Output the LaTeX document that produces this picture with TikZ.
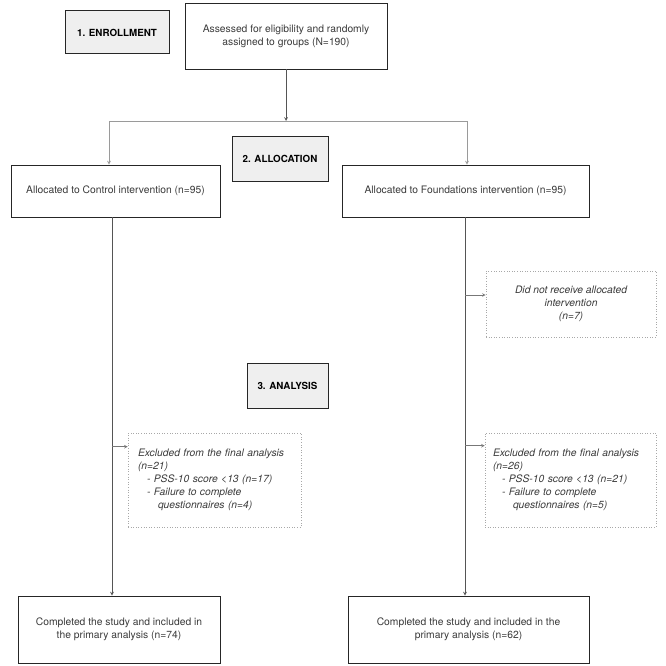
\documentclass[tikz,border=0pt]{standalone}
\usepackage{fontspec}
\setmainfont{TeX Gyre Heros}
\definecolor{boxline}{HTML}{262626}
\definecolor{stagefill}{HTML}{EFEFEF}
\definecolor{txtgray}{HTML}{3A3A3A}
\definecolor{linegray}{HTML}{555555}
\definecolor{splitgray}{HTML}{9A9A9A}
\definecolor{dotgray}{HTML}{A8A8A8}

\begin{document}
\begin{tikzpicture}[x=1pt, y=-1pt,
			every node/.style={font=\fontsize{10.3}{13}\selectfont, text=txtgray},
			flowbox/.style={draw=boxline, line width=0.9pt, rectangle, align=center, inner sep=0pt},
			stagebox/.style={draw=boxline, line width=1pt, rectangle, fill=stagefill, align=center, inner sep=0pt, font=\fontsize{9.8}{12}\selectfont\bfseries, text=black},
			notebox/.style={draw=dotgray, dotted, line width=0.6pt, rectangle, inner sep=0pt, font=\fontsize{10.3}{13}\selectfont\itshape},
			flowline/.style={draw=linegray, line width=0.7pt},
			splitline/.style={draw=splitgray, line width=0.7pt},
			sideline/.style={draw=linegray!80, line width=0.6pt}]
				\useasboundingbox (0,0) rectangle (666,666);
				\node[stagebox, minimum width=104pt, minimum height=43pt] (enroll)at(117, 32.5) {1. ENROLLMENT};
				\node[flowbox, minimum width=202pt, minimum height=66pt] (assess)at(286, 36) {Assessed for eligibility and randomly\\assigned to groups (N=190)};
				\node[stagebox, minimum width=96pt, minimum height=45pt] (alloc)at(280, 158.5) {2. ALLOCATION};
				\node[flowbox, minimum width=209pt, minimum height=52pt] (ctrl)at(115.5, 191) {Allocated to Control intervention (n=95)};
				\node[flowbox, minimum width=247pt, minimum height=52pt] (found)at(465.5, 191) {Allocated to Foundations intervention (n=95)};
				\node[notebox, align=center, minimum width=170pt, minimum height=66pt] (norecv)at(571, 304) {Did not receive allocated\\intervention\\(n=7)};
				\node[stagebox, minimum width=81pt, minimum height=45pt] (analysis)at(287.5, 385.5) {3. ANALYSIS};
				\node[notebox, align=left, text width=153pt, inner xsep=10pt, minimum height=94pt] (exclctrl)at(214.5, 480) {Excluded from the final analysis\\(n=21)\\\hspace*{9pt}- PSS-10 score <13 (n=17)\\\hspace*{9pt}- Failure to complete\\\hspace*{20pt}questionnaires (n=4)};
				\node[notebox, align=left, text width=155pt, inner xsep=8pt, minimum height=94pt] (exclfound)at(570.5, 480) {Excluded from the final analysis\\(n=26)\\\hspace*{9pt}- PSS-10 score <13 (n=21)\\\hspace*{9pt}- Failure to complete\\\hspace*{20pt}questionnaires (n=5)};
				\node[flowbox, minimum width=202pt, minimum height=67pt] (donectrl)at(119, 629.5) {Completed the study and included in\\the primary analysis (n=74)};
				\node[flowbox, minimum width=241pt, minimum height=67pt] (donefound)at(468.5, 629.5) {Completed the study and included in the\\primary analysis (n=62)};
				\coordinate (split)at(286, 121);
				\coordinate (ctrlin)at(109, 0);
				\coordinate (foundin)at(467, 0);
				\coordinate (ctrlx)at(112, 0);
				\coordinate (foundx)at(465, 0);
				\coordinate (norecvin) at ([yshift=9pt]norecv.west);
				\coordinate (exclctrlin) at ([yshift=-14pt]exclctrl.north west);
				\coordinate (exclfoundin) at ([yshift=-13pt]exclfound.north west);
				\draw[flowline, ->, >=stealth] (assess) -- (split);
				\draw[splitline, ->, >=stealth] (split) -| (ctrl.north -| ctrlin);
				\draw[splitline, ->, >=stealth] (split) -| (found.north -| foundin);
				\draw[flowline, ->, >=stealth] (ctrl.south -| ctrlx) -- (donectrl.north -| ctrlx);
				\draw[flowline, ->, >=stealth] (found.south -| foundx) -- (donefound.north -| foundx);
				\draw[sideline, ->, >=stealth] (foundx |- norecvin) -- (norecvin);
				\draw[sideline, ->, >=stealth] (ctrlx |- exclctrlin) -- (exclctrlin);
				\draw[sideline, ->, >=stealth] (foundx |- exclfoundin) -- (exclfoundin);
			\end{tikzpicture}
\end{document}
